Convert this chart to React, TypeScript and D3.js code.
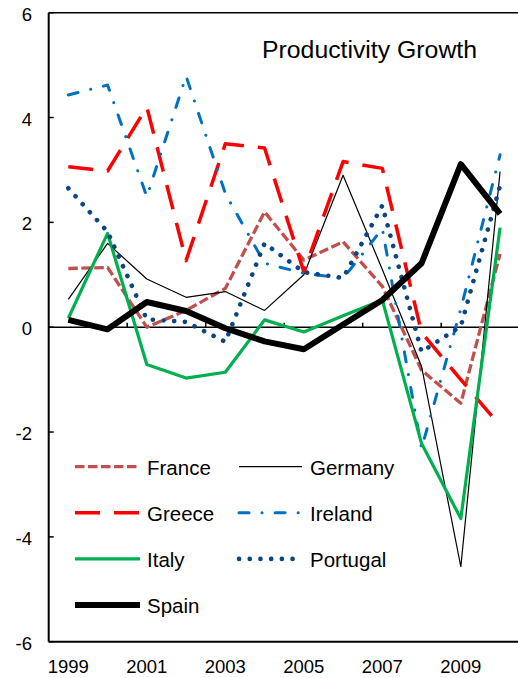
import React from "react";
import * as d3 from "d3";

const years = [1999, 2000, 2001, 2002, 2003, 2004, 2005, 2006, 2007, 2008, 2009, 2010];
const yTicks = [-6, -4, -2, 0, 2, 4, 6];
const xLabelYears = [1999, 2001, 2003, 2005, 2007, 2009];

const france = [1.12, 1.14, 0.0, 0.32, 0.74, 2.2, 1.28, 1.63, 0.78, -0.82, -1.45, 1.4];
const germany = [0.53, 1.6, 0.92, 0.57, 0.68, 0.32, 1.0, 2.9, 1.1, -0.75, -4.57, 2.97];
const greece = [3.06, 2.98, 4.2, 1.27, 3.5, 3.42, 1.06, 3.16, 3.03, -0.1, -1.0, -1.88];
const ireland = [4.43, 4.62, 2.49, 4.79, 2.55, 1.22, 1.03, 0.93, 1.88, -2.31, 0.35, 3.29];
const italy = [0.17, 1.79, -0.71, -0.97, -0.86, 0.14, -0.09, 0.22, 0.52, -2.22, -3.65, 1.9];
const portugal = [2.65, 1.82, 0.15, 0.1, -0.28, 1.6, 1.05, 0.94, 2.32, -0.47, 0.02, 2.7];
const spain = [0.14, -0.04, 0.48, 0.31, -0.02, -0.27, -0.42, 0.05, 0.52, 1.22, 3.11, 2.16];

const seriesNames = ["France", "Germany", "Greece", "Ireland", "Italy", "Portugal", "Spain"];
const seriesValues = [france, germany, greece, ireland, italy, portugal, spain];

const styles: Record<string, { color: string; width: number; dash?: string; cap?: string }> = {
  France: { color: "#C0504D", width: 3.3, dash: "9.5,3.5" },
  Germany: { color: "#000000", width: 1.2 },
  Greece: { color: "#FF0000", width: 3.5, dash: "25,14" },
  Ireland: { color: "#0070C0", width: 3, dash: "10,13,0.1,13", cap: "round" },
  Italy: { color: "#00B050", width: 3.2 },
  Portugal: { color: "#0B4582", width: 4.6, dash: "0.1,10.6", cap: "round" },
  Spain: { color: "#000000", width: 6 },
};

const W = 518;
const H = 678;
const left = 48.7;
const top = 12.7;
const bottom = 641.7;
const bandW = 39.25;
const right = left + bandW * years.length;

export default function App() {
  const x = d3.scaleBand<number>().domain(years).range([left, right]).padding(0);
  const y = d3.scaleLinear().domain([-6, 6]).range([bottom, top]);
  const cx = (yr: number) => (x(yr) as number) + x.bandwidth() / 2;
  const font = "'Liberation Sans', Arial, sans-serif";

  const line = d3
    .line<number>()
    .x((_, i) => cx(years[i]))
    .y((d) => y(d));

  const boundaryTicks = years.filter((_, i) => i % 2 === 0 && i > 0).map((yr) => x(yr) as number);

  return (
    <svg width={W} height={H} style={{ position: "absolute", left: 0, top: 0, background: "#fff" }} fontFamily={font}>
      <rect x={0} y={0} width={W} height={H} fill="#fff" />
      {/* plot frame */}
      <line x1={left} x2={right} y1={top} y2={top} stroke="#000" strokeWidth={1.6} />
      <line x1={left} x2={right} y1={bottom} y2={bottom} stroke="#000" strokeWidth={2} />
      <line x1={left} x2={left} y1={top} y2={bottom} stroke="#000" strokeWidth={2} />
      {/* zero line */}
      <line x1={left} x2={right} y1={y(0)} y2={y(0)} stroke="#000" strokeWidth={1.5} />
      {boundaryTicks.map((bx, i) => (
        <line key={"xt" + i} x1={bx} x2={bx} y1={y(0)} y2={y(0) - 4.5} stroke="#000" strokeWidth={1.5} />
      ))}
      {yTicks.map((t) => (
        <g key={"yt" + t}>
          <line x1={left} x2={left + 5} y1={y(t)} y2={y(t)} stroke="#000" strokeWidth={1.5} />
          <text x={32} y={y(t) + 8} textAnchor="end" fontSize={18.5} fill="#000">
            {t}
          </text>
        </g>
      ))}
      {xLabelYears.map((yr) => (
        <text key={"xl" + yr} x={cx(yr)} y={673} textAnchor="middle" fontSize={18.5} fill="#000">
          {yr}
        </text>
      ))}
      <text x={369.5} y={58.3} textAnchor="middle" fontSize={24.8} fill="#000">
        Productivity Growth
      </text>
      {seriesNames.map((name, si) => {
        const s = styles[name];
        return (
          <path
            key={name}
            d={line(seriesValues[si]) || ""}
            fill="none"
            stroke={s.color}
            strokeWidth={s.width}
            strokeDasharray={s.dash}
            strokeLinecap={(s.cap as any) || "butt"}
            strokeLinejoin="round"
          />
        );
      })}
      {/* legend */}
      {seriesNames.map((name, i) => {
        const s = styles[name];
        const col = i % 2;
        const row = Math.floor(i / 2);
        const base = 475 + row * 46.1;
        const lx1 = col === 0 ? 75 : 239;
        const lx2 = col === 0 ? 140 : 302;
        const tx = col === 0 ? 147 : 310;
        return (
          <g key={"lg" + name}>
            <line
              x1={lx1}
              x2={lx2}
              y1={base - 8.3}
              y2={base - 8.3}
              stroke={s.color}
              strokeWidth={s.width}
              strokeDasharray={s.dash}
              strokeLinecap={(s.cap as any) || "butt"}
            />
            <text x={tx} y={base} fontSize={20.5} fill="#000">
              {name}
            </text>
          </g>
        );
      })}
    </svg>
  );
}
